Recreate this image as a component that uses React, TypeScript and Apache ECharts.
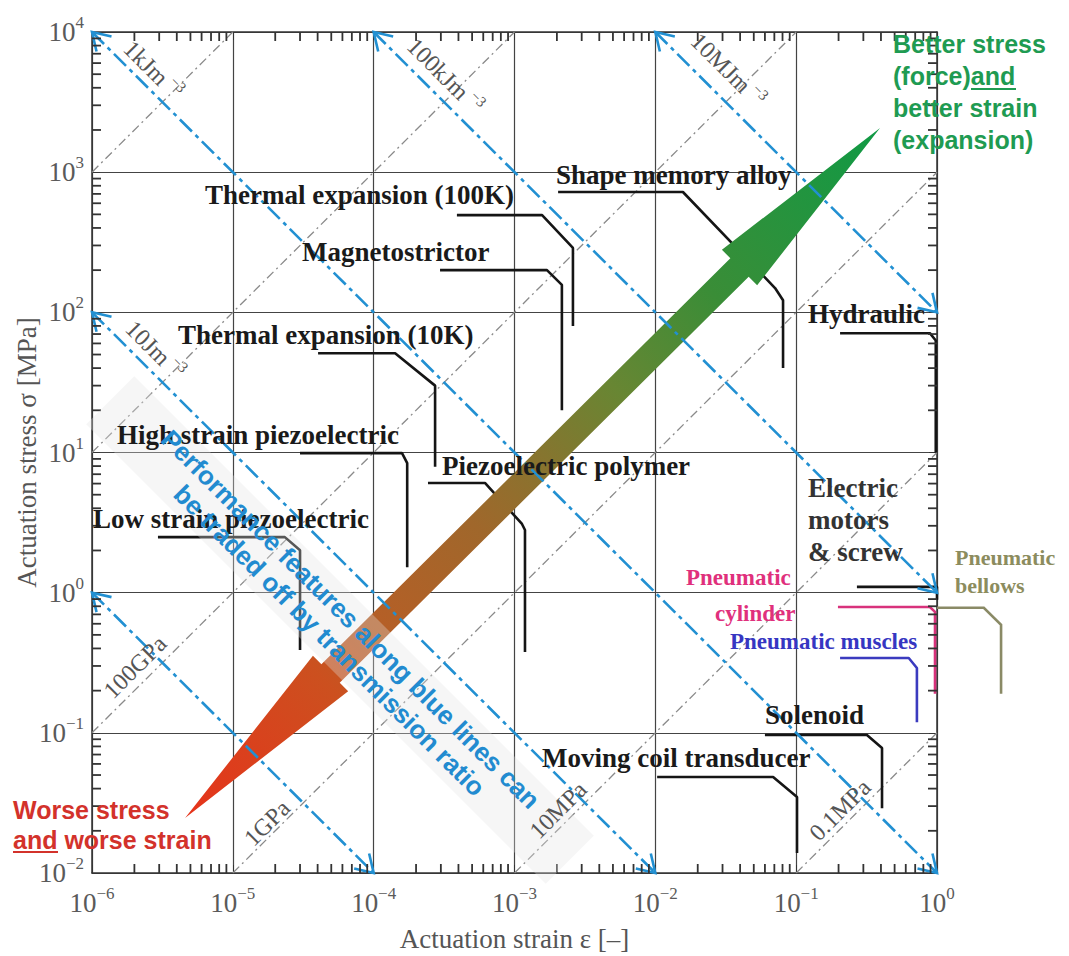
import React, { useEffect, useRef } from 'react';
import * as echarts from 'echarts';

const SERIF = '"Liberation Serif", "Times New Roman", serif';
const SANS = '"Liberation Sans", Arial, sans-serif';
const BLUE = '#2290d2';
const GRAY = '#8a8a8a';
const BLACK = '#151515';

// axis ranges (strain [-], stress [MPa])
const strainMin = 1e-6;
const strainMax = 1;
const stressMin = 1e-2;
const stressMax = 1e4;
const decadesStrain = [1e-6, 1e-5, 1e-4, 1e-3, 1e-2, 1e-1];
const decadesStress = [1e-2, 1e-1, 1, 1e1, 1e2, 1e3];
const minorMultipliers = [2, 3, 4, 5, 6, 7, 8, 9];

// constant energy density lines [strain1, stress1, strain2, stress2]
const energyLines = [
  [1e-6, 1e4, 1, 1e-2],
  [1e-4, 1e4, 1, 1],
  [1e-2, 1e4, 1, 1e2],
  [1e-6, 1e2, 1e-2, 1e-2],
  [1e-6, 1, 1e-4, 1e-2],
];
const energyLabels = ['1kJm', '100kJm', '10MJm', '10Jm'];
const energyLabelPos = [[153, 70], [445, 76], [728, 70], [155, 350]];

// constant modulus lines [strain1, stress1, strain2, stress2]
const modulusLines = [
  [1e-6, 1e3, 1e-5, 1e4],
  [1e-6, 10, 1e-3, 1e4],
  [1e-6, 0.1, 1e-1, 1e4],
  [1e-5, 1e-2, 1, 1e3],
  [1e-3, 1e-2, 1, 10],
  [1e-1, 1e-2, 1, 0.1],
];
const modulusLabels = ['100GPa', '1GPa', '10MPa', '0.1MPa'];
const modulusLabelPos = [[135, 667], [267, 823], [558, 810], [840, 810]];

// actuator boundaries [strain, stress]
const thermal100K = [[3.9e-4, 494], [1.57e-3, 494], [2.6e-3, 288], [2.6e-3, 80]];
const magnetostrictor = [[2.96e-4, 200], [1.7e-3, 200], [2.17e-3, 157], [2.17e-3, 20]];
const shapeMemory = [[2.04e-3, 722], [1.57e-2, 722], [7.08e-2, 149], [8.07e-2, 122], [8.07e-2, 40]];
const hydraulic = [[0.205, 71], [0.89, 71], [0.98, 63], [0.98, 10]];
const thermal10K = [[4.03e-5, 51], [1.42e-4, 51], [2.73e-4, 30], [2.73e-4, 7.9]];
const highStrainPiezo = [[3.0e-5, 9.9], [1.59e-4, 9.9], [1.73e-4, 8.4], [1.73e-4, 1.52]];
const lowStrainPiezo = [[2.94e-6, 2.49], [2.34e-5, 2.49], [3.0e-5, 2.01], [3.0e-5, 0.39]];
const piezoPolymer = [[2.43e-4, 6.06], [6.17e-4, 6.06], [1.13e-3, 3.09], [1.187e-3, 2.8], [1.187e-3, 0.377]];
const electricMotors = [[0.27, 1.1], [1, 1.1], [1, 0.89]];
const pneumaticCylinder = [[0.198, 0.79], [0.89, 0.79], [0.968, 0.73], [0.968, 0.19]];
const pneumaticMuscles = [[0.205, 0.342], [0.63, 0.342], [0.72, 0.29], [0.72, 0.119]];
const pneumaticBellows = [[1, 0.78], [2.15, 0.78], [2.85, 0.59], [2.85, 0.19]];
const solenoid = [[0.06, 0.0966], [0.318, 0.0966], [0.407, 0.078], [0.407, 0.029]];
const movingCoil = [[0.0103, 0.0484], [0.0686, 0.0484], [0.1014, 0.0349], [0.1014, 0.0139]];

// big trade-off arrow: tail tip and head tip [strain, stress]
const arrowTail = [4.58e-6, 0.0247];
const arrowHead = [0.394, 2066];

// labels
const materialNames = [
  'Thermal expansion (100K)', 'Shape memory alloy', 'Magnetostrictor', 'Thermal expansion (10K)',
  'Hydraulic', 'High strain piezoelectric', 'Piezoelectric polymer', 'Low strain piezoelectric',
  'Solenoid', 'Moving coil transducer',
];
const materialLabelPos = [
  [205, 195], [556, 175], [302, 252], [178, 335], [808, 314], [117, 435], [442, 466], [93, 519],
  [765, 715], [542, 758],
];

const expLabel = (v: number) => {
  const e = Math.round(Math.log10(v));
  return `{b|10}{s|${e < 0 ? '\u2212' + -e : e}}`;
};
const labelRich = {
  b: { fontFamily: SERIF, fontSize: 27, color: '#5a5a5a', lineHeight: 36 },
  s: { fontFamily: SERIF, fontSize: 17, color: '#5a5a5a', lineHeight: 15, verticalAlign: 'top' },
};

function makeAxis(position: string, min: number, max: number, main: boolean, extra: any = {}) {
  return {
    type: 'log',
    logBase: 10,
    min,
    max,
    position,
    splitNumber: 6,
    axisLine: { show: true, onZero: false, lineStyle: { color: '#333', width: 1.5 } },
    axisTick: { show: true, inside: true, length: 8, lineStyle: { color: '#333', width: 1 } },
    minorTick: { show: false },
    splitLine: { show: main, lineStyle: { color: '#444', width: 1.2 } },
    minorSplitLine: { show: false },
    axisLabel: { show: false },
    ...extra,
  };
}

export default function App() {
  const ref = useRef<HTMLDivElement>(null);
  useEffect(() => {
    const chart = echarts.init(ref.current!, null, { renderer: 'svg' });

    const boundaries = [
      { pts: thermal100K, color: BLACK },
      { pts: magnetostrictor, color: BLACK },
      { pts: shapeMemory, color: BLACK },
      { pts: hydraulic, color: BLACK },
      { pts: thermal10K, color: BLACK },
      { pts: highStrainPiezo, color: BLACK },
      { pts: lowStrainPiezo, color: BLACK },
      { pts: piezoPolymer, color: BLACK },
      { pts: electricMotors, color: BLACK },
      { pts: pneumaticCylinder, color: '#d8327c' },
      { pts: pneumaticMuscles, color: '#3b3bbf' },
      { pts: solenoid, color: BLACK },
      { pts: movingCoil, color: BLACK },
    ];

    const series: any[] = [];

    // minor ticks (2..9 x each decade) on all four sides, as small rect markers
    const strainMinorVals: number[] = [];
    decadesStrain.forEach((d) => minorMultipliers.forEach((m) => strainMinorVals.push(d * m)));
    const stressMinorVals: number[] = [];
    decadesStress.forEach((d) => minorMultipliers.forEach((m) => stressMinorVals.push(d * m)));
    const tickSeries = (data: number[][], size: number[], offset: number[]) => ({
      type: 'scatter',
      data,
      symbol: 'rect',
      symbolSize: size,
      symbolOffset: offset,
      silent: true,
      clip: false,
      z: 7,
      itemStyle: { color: '#333', opacity: 1 },
    });
    series.push(tickSeries(strainMinorVals.map((v) => [v, stressMin]), [1.8, 9], [0, -4.5]));
    series.push(tickSeries(strainMinorVals.map((v) => [v, stressMax]), [1.8, 9], [0, 4.5]));
    series.push(tickSeries(stressMinorVals.map((v) => [strainMin, v]), [9, 1.8], [4.5, 0]));
    series.push(tickSeries(stressMinorVals.map((v) => [strainMax, v]), [9, 1.8], [-4.5, 0]));

    modulusLines.forEach((l) => {
      series.push({
        type: 'line',
        data: [[l[0], l[1]], [l[2], l[3]]],
        symbol: 'none',
        silent: true,
        z: 3,
        lineStyle: { color: GRAY, width: 1.3, type: [9, 4, 2, 4] },
      });
    });
    boundaries.forEach((b) => {
      series.push({
        type: 'line',
        data: b.pts,
        symbol: 'none',
        silent: true,
        clip: false,
        z: 4,
        lineStyle: { color: b.color, width: 2.6 },
      });
    });

    // pneumatic bellows boundary extends beyond strain = 1, drawn unclipped
    series.push({
      type: 'custom',
      silent: true,
      clip: false,
      z: 4,
      data: pneumaticBellows,
      encode: { x: 0, y: 1 },
      renderItem: (params: any, api: any) => {
        if (params.dataIndex !== 0) return null;
        const pts = pneumaticBellows.map((p) => api.coord(p));
        return { type: 'polyline', shape: { points: pts }, style: { stroke: '#8a8a66', lineWidth: 2.6, fill: null } };
      },
    });

    // arrow
    series.push({
      type: 'custom',
      silent: true,
      clip: false,
      z: 5,
      encode: { x: [0, 2], y: [1, 3] },
      data: [[arrowTail[0], arrowTail[1], arrowHead[0], arrowHead[1]]],
      renderItem: (params: any, api: any) => {
        const B = api.coord([api.value(0), api.value(1)]);
        const T = api.coord([api.value(2), api.value(3)]);
        const dx = T[0] - B[0];
        const dy = T[1] - B[1];
        const L = Math.hypot(dx, dy);
        const ux = dx / L;
        const uy = dy / L;
        const nx = -uy;
        const ny = ux;
        const P = (u: number, v: number) => [B[0] + ux * u + nx * v, B[1] + uy * u + ny * v];
        const rh = 205;
        const hw = 25;
        const sw = 13;
        const gh = L - 198;
        const pts = [P(0, 0), P(rh, -hw), P(rh, -sw), P(gh, -sw), P(gh, -hw), P(L, 0), P(gh, hw), P(gh, sw), P(rh, sw), P(rh, hw)];
        return {
          type: 'polygon',
          shape: { points: pts },
          style: {
            fill: new echarts.graphic.LinearGradient(B[0], B[1], T[0], T[1], [
              { offset: 0, color: '#e6331b' },
              { offset: 0.2, color: '#cc501f' },
              { offset: 0.26, color: '#b85e26' },
              { offset: 0.42, color: '#a0672b' },
              { offset: 0.52, color: '#86752f' },
              { offset: 0.62, color: '#688633' },
              { offset: 0.76, color: '#3a8d37' },
              { offset: 1, color: '#109a45' },
            ], true),
          },
        };
      },
    });

    // energy lines with chevrons at both ends
    series.push({
      type: 'custom',
      silent: true,
      clip: false,
      z: 6,
      encode: { x: [0, 2], y: [1, 3] },
      data: energyLines,
      renderItem: (params: any, api: any) => {
        const a = api.coord([api.value(0), api.value(1)]);
        const b = api.coord([api.value(2), api.value(3)]);
        const chev = (p: number[], q: number[]) => {
          const dx = p[0] - q[0];
          const dy = p[1] - q[1];
          const len = Math.hypot(dx, dy);
          const bx = -dx / len;
          const by = -dy / len;
          const Lh = 20;
          const ang = (32 * Math.PI) / 180;
          const c = Math.cos(ang);
          const s = Math.sin(ang);
          const p1 = [p[0] + Lh * (bx * c - by * s), p[1] + Lh * (bx * s + by * c)];
          const p2 = [p[0] + Lh * (bx * c + by * s), p[1] + Lh * (-bx * s + by * c)];
          return { type: 'polyline', shape: { points: [p1, p, p2] }, style: { stroke: BLUE, lineWidth: 2.6, fill: null } };
        };
        return {
          type: 'group',
          children: [
            { type: 'line', shape: { x1: a[0], y1: a[1], x2: b[0], y2: b[1] }, style: { stroke: BLUE, lineWidth: 2.6, lineDash: [17, 5, 4, 5] } },
            chev(a, b),
            chev(b, a),
          ],
        };
      },
    });

    const graphics: any[] = [];
    // line labels
    energyLabels.forEach((t, i) => {
      graphics.push({
        type: 'text',
        x: energyLabelPos[i][0],
        y: energyLabelPos[i][1],
        rotation: (-45 * Math.PI) / 180,
        z: 20,
        style: {
          text: `{a|${t}}{s|\u22123}`,
          rich: {
            a: { fontFamily: SERIF, fontSize: 24, fill: '#555', lineHeight: 30 },
            s: { fontFamily: SERIF, fontSize: 15, fill: '#555', lineHeight: 12, verticalAlign: 'top', padding: [0, 0, 0, 4] },
          },
          textAlign: 'center',
          textVerticalAlign: 'middle',
        },
      });
    });
    modulusLabels.forEach((t, i) => {
      graphics.push({
        type: 'text',
        x: modulusLabelPos[i][0],
        y: modulusLabelPos[i][1],
        rotation: (45 * Math.PI) / 180,
        z: 20,
        style: {
          text: t,
          fontFamily: SERIF,
          fontSize: 24,
          fill: '#555',
          textAlign: 'center',
          textVerticalAlign: 'middle',
        },
      });
    });
    // material labels
    materialNames.forEach((t, i) => {
      graphics.push({
        type: 'text',
        x: materialLabelPos[i][0],
        y: materialLabelPos[i][1],
        z: 20,
        style: {
          text: t,
          fontFamily: SERIF,
          fontWeight: 'bold',
          fontSize: 27,
          fill: '#1a1a1a',
          textAlign: 'left',
          textVerticalAlign: 'middle',
        },
      });
    });
    graphics.push({
      type: 'text', x: 808, y: 520, z: 20,
      style: { text: 'Electric\nmotors\n& screw', fontFamily: SERIF, fontWeight: 'bold', fontSize: 27, lineHeight: 32, fill: '#333', textAlign: 'left', textVerticalAlign: 'middle' },
    });
    graphics.push({
      type: 'text', x: 686, y: 577, z: 20,
      style: { text: 'Pneumatic', fontFamily: SERIF, fontWeight: 'bold', fontSize: 23, fill: '#e0307c', textAlign: 'left', textVerticalAlign: 'middle' },
    });
    graphics.push({
      type: 'text', x: 715, y: 613, z: 20,
      style: { text: 'cylinder', fontFamily: SERIF, fontWeight: 'bold', fontSize: 23, fill: '#e0307c', textAlign: 'left', textVerticalAlign: 'middle' },
    });
    graphics.push({
      type: 'text', x: 730, y: 641, z: 20,
      style: { text: 'Pneumatic muscles', fontFamily: SERIF, fontWeight: 'bold', fontSize: 23, fill: '#3636c2', textAlign: 'left', textVerticalAlign: 'middle' },
    });
    graphics.push({
      type: 'text', x: 955, y: 571, z: 20,
      style: { text: 'Pneumatic\nbellows', fontFamily: SERIF, fontWeight: 'bold', fontSize: 22, lineHeight: 28, fill: '#8c8c5e', textAlign: 'left', textVerticalAlign: 'middle' },
    });
    // trade-off band and text
    graphics.push({
      type: 'rect', x: 340, y: 630, rotation: (-45 * Math.PI) / 180, z: 18,
      shape: { x: -325, y: -34, width: 650, height: 68 },
      style: { fill: 'rgba(226,226,226,0.32)' },
    });
    graphics.push({
      type: 'text', x: 340, y: 630, rotation: (-45 * Math.PI) / 180, z: 21,
      style: {
        text: 'Performance features along blue lines can\nbe traded off by transmission ratio',
        fontFamily: SANS, fontWeight: 'bold', fontSize: 26, lineHeight: 30, fill: '#228bd0',
        textAlign: 'center', textVerticalAlign: 'middle',
      },
    });
    // corner captions
    graphics.push({
      type: 'text', x: 893, y: 28, z: 21,
      style: { text: 'Better stress\n(force)and\nbetter strain\n(expansion)', fontFamily: SANS, fontWeight: 'bold', fontSize: 25, lineHeight: 32, fill: '#1f9b52', textAlign: 'left', textVerticalAlign: 'top' },
    });
    graphics.push({ type: 'line', z: 21, shape: { x1: 971, y1: 89, x2: 1016, y2: 89 }, style: { stroke: '#1f9b52', lineWidth: 2 } });
    graphics.push({
      type: 'text', x: 13, y: 795, z: 21,
      style: { text: 'Worse stress\nand worse strain', fontFamily: SANS, fontWeight: 'bold', fontSize: 25, lineHeight: 30, fill: '#d3322b', textAlign: 'left', textVerticalAlign: 'top' },
    });
    graphics.push({ type: 'line', z: 21, shape: { x1: 13, y1: 852, x2: 58, y2: 852 }, style: { stroke: '#d3322b', lineWidth: 2 } });

    const option: any = {
      animation: false,
      backgroundColor: '#ffffff',
      grid: { left: 92, top: 32, width: 845, height: 841, containLabel: false, outerBoundsMode: 'none' },
      xAxis: [
        makeAxis('bottom', strainMin, strainMax, true, {
          name: 'Actuation strain \u03b5 [\u2013]',
          nameLocation: 'middle',
          nameGap: 52,
          nameMoveOverlap: false,
          nameTextStyle: { fontFamily: SERIF, fontSize: 27, color: '#555' },
          axisLabel: { show: true, formatter: expLabel, rich: labelRich, margin: 12, showMinLabel: true, showMaxLabel: true },
        }),
        makeAxis('top', strainMin, strainMax, false),
      ],
      yAxis: [
        makeAxis('left', stressMin, stressMax, true, {
          name: 'Actuation stress \u03c3 [MPa]',
          nameLocation: 'middle',
          nameRotate: 90,
          nameGap: 52,
          nameMoveOverlap: false,
          nameTextStyle: { fontFamily: SERIF, fontSize: 27, color: '#555' },
          axisLabel: { show: true, formatter: expLabel, rich: labelRich, margin: 8, showMinLabel: true, showMaxLabel: true },
        }),
        makeAxis('right', stressMin, stressMax, false),
      ],
      series,
      graphic: { elements: graphics },
    };
    chart.setOption(option);
    return () => chart.dispose();
  }, []);
  return <div ref={ref} style={{ position: 'fixed', left: 0, top: 0, width: 1069, height: 956, background: '#fff' }} />;
}
